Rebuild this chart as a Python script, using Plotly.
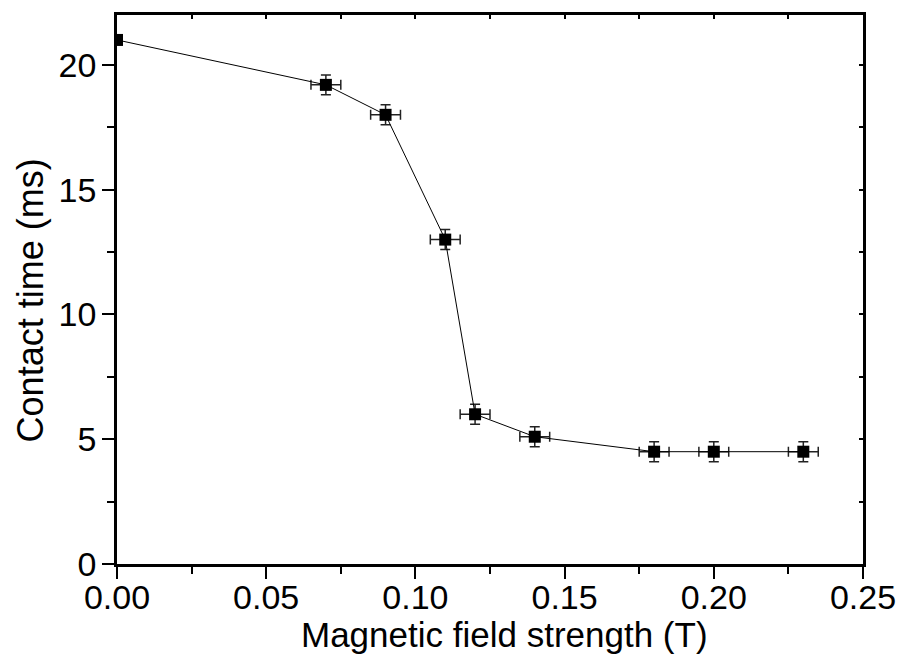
import plotly.graph_objects as go

field_T = [0.0, 0.07, 0.09, 0.11, 0.12, 0.14, 0.18, 0.20, 0.23]
contact_ms = [21.0, 19.2, 18.0, 13.0, 6.0, 5.1, 4.5, 4.5, 4.5]
err_x = [0.0, 0.005, 0.005, 0.005, 0.005, 0.005, 0.005, 0.005, 0.005]
err_y = [0.0, 0.4, 0.4, 0.4, 0.4, 0.4, 0.4, 0.4, 0.4]

x_title = "Magnetic field strength (T)"
y_title = "Contact time (ms)"

FONT = "Liberation Sans, Arial, sans-serif"

fig = go.Figure()
fig.add_trace(go.Scatter(
    x=field_T, y=contact_ms, mode="lines+markers",
    line=dict(color="black", width=1),
    marker=dict(symbol="square", size=12, color="black"),
    error_x=dict(type="data", array=err_x, visible=True, color="#222", thickness=1.5, width=5),
    error_y=dict(type="data", array=err_y, visible=True, color="#222", thickness=1.5, width=5),
    cliponaxis=True, showlegend=False,
))
# invisible trace for mirrored tick axes
fig.add_trace(go.Scatter(x=[field_T[0]], y=[contact_ms[0]], xaxis="x2", yaxis="y2",
                         mode="markers", marker=dict(opacity=0), showlegend=False, hoverinfo="skip"))

axis_common = dict(showgrid=False, zeroline=False, linecolor="black", linewidth=2.5,
                   tickcolor="black", tickwidth=2, ticklen=12, ticks="outside", automargin=False,
                   tickfont=dict(family=FONT, size=34, color="black"))

# page body has an 8px default margin, so the figure is sized to fit inside it
fig.update_layout(
    width=896, height=656,
    margin=dict(l=109, r=41, t=7, b=100),
    paper_bgcolor="white", plot_bgcolor="white",
    xaxis=dict(range=[0, 0.25], dtick=0.05, tickformat=".2f", ticklabelstandoff=-11,
               minor=dict(dtick=0.025, ticks="outside", ticklen=7, tickwidth=2, tickcolor="black"),
               **axis_common),
    yaxis=dict(range=[0, 22], dtick=5, ticklabelstandoff=-1,
               minor=dict(dtick=2.5, ticks="outside", ticklen=7, tickwidth=2, tickcolor="black"),
               **axis_common),
    xaxis2=dict(range=[0, 0.25], overlaying="x", side="top", dtick=0.025, ticks="inside", ticklen=4,
                tickwidth=1.5, tickcolor="black", showticklabels=False, showgrid=False, zeroline=False,
                showline=True, linecolor="black", linewidth=2.5),
    yaxis2=dict(range=[0, 22], overlaying="y", side="right", dtick=2.5, ticks="inside", ticklen=4,
                tickwidth=1.5, tickcolor="black", showticklabels=False, showgrid=False, zeroline=False,
                showline=True, linecolor="black", linewidth=2.5),
    annotations=[
        dict(text=x_title, xref="paper", yref="paper", x=0.5188, y=-0.1293,
             xanchor="center", yanchor="middle", showarrow=False,
             font=dict(family=FONT, size=35, color="black")),
        dict(text=y_title, xref="paper", yref="paper", x=-0.116, y=0.481, textangle=-90,
             xanchor="center", yanchor="middle", showarrow=False,
             font=dict(family=FONT, size=36, color="black")),
    ],
)
fig.write_html("out.html")
